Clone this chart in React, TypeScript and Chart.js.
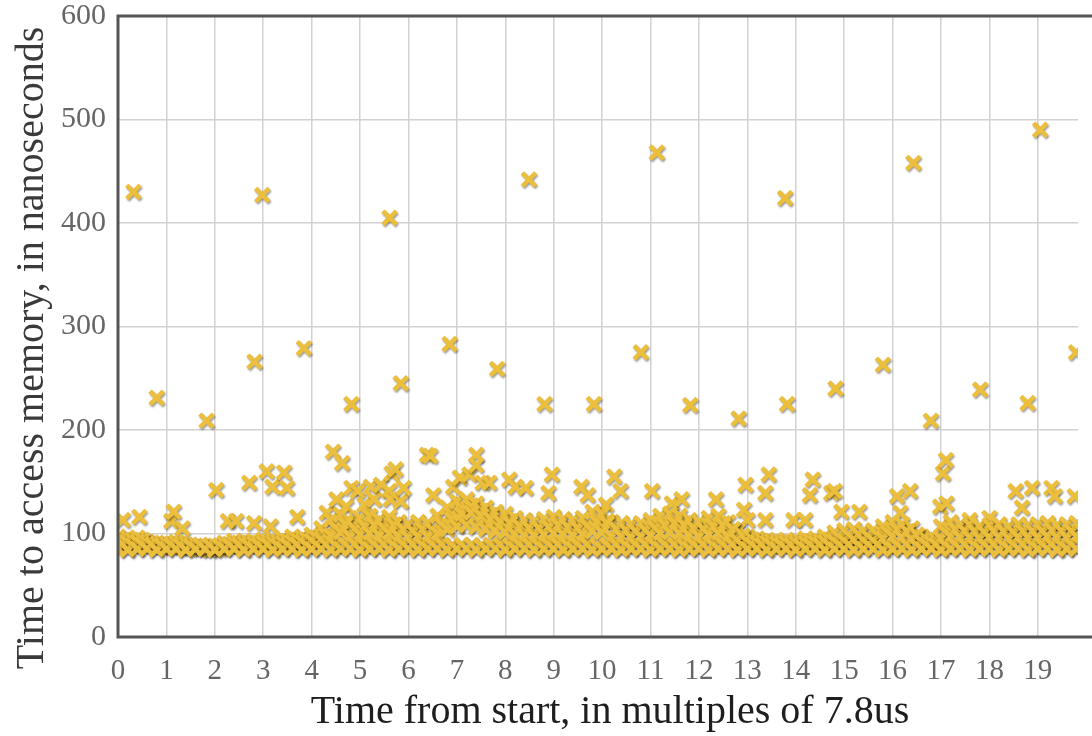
import React, { useEffect, useRef } from 'react';
import { Chart, registerables } from 'chart.js';

Chart.register(...registerables);

// Dense band: sample positions along time axis
const bandX = [
  0, 0.2, 0.4, 0.6, 0.8, 1, 1.2, 1.4, 1.6, 1.8,
  2, 2.2, 2.4, 2.6, 2.8, 3, 3.2, 3.4, 3.6, 3.8,
  4, 4.2, 4.4, 4.6, 4.8, 5, 5.2, 5.4, 5.6, 5.8,
  6, 6.2, 6.4, 6.6, 6.8, 7, 7.2, 7.4, 7.6, 7.8,
  8, 8.2, 8.4, 8.6, 8.8, 9, 9.2, 9.4, 9.6, 9.8,
  10, 10.2, 10.4, 10.6, 10.8, 11, 11.2, 11.4, 11.6, 11.8,
  12, 12.2, 12.4, 12.6, 12.8, 13, 13.2, 13.4, 13.6, 13.8,
  14, 14.2, 14.4, 14.6, 14.8, 15, 15.2, 15.4, 15.6, 15.8,
  16, 16.2, 16.4, 16.6, 16.8, 17, 17.2, 17.4, 17.6, 17.8,
  18, 18.2, 18.4, 18.6, 18.8, 19, 19.2, 19.4, 19.6, 19.8,
];

// Staggered positions (between the ones above)
const bandXB = [
  0.1, 0.3, 0.5, 0.7, 0.9, 1.1, 1.3, 1.5, 1.7, 1.9,
  2.1, 2.3, 2.5, 2.7, 2.9, 3.1, 3.3, 3.5, 3.7, 3.9,
  4.1, 4.3, 4.5, 4.7, 4.9, 5.1, 5.3, 5.5, 5.7, 5.9,
  6.1, 6.3, 6.5, 6.7, 6.9, 7.1, 7.3, 7.5, 7.7, 7.9,
  8.1, 8.3, 8.5, 8.7, 8.9, 9.1, 9.3, 9.5, 9.7, 9.9,
  10.1, 10.3, 10.5, 10.7, 10.9, 11.1, 11.3, 11.5, 11.7, 11.9,
  12.1, 12.3, 12.5, 12.7, 12.9, 13.1, 13.3, 13.5, 13.7, 13.9,
  14.1, 14.3, 14.5, 14.7, 14.9, 15.1, 15.3, 15.5, 15.7, 15.9,
  16.1, 16.3, 16.5, 16.7, 16.9, 17.1, 17.3, 17.5, 17.7, 17.9,
  18.1, 18.3, 18.5, 18.7, 18.9, 19.1, 19.3, 19.5, 19.7, 19.9,
];

const bandLow = [
  85, 84, 85, 85, 84, 85, 85, 84, 85, 85,
  84, 85, 85, 84, 85, 85, 84, 85, 85, 84,
  85, 85, 84, 85, 85, 84, 85, 85, 84, 85,
  85, 84, 85, 85, 84, 85, 85, 84, 85, 85,
  84, 85, 85, 84, 85, 85, 84, 85, 85, 84,
  85, 85, 84, 85, 85, 84, 85, 85, 84, 85,
  85, 84, 85, 85, 84, 85, 85, 84, 85, 85,
  84, 85, 85, 84, 85, 85, 84, 85, 85, 84,
  85, 85, 84, 85, 85, 84, 85, 85, 84, 85,
  85, 84, 85, 85, 84, 85, 85, 84, 85, 85,
];

const bandMid = [
  89, 88, 89, 89, 88, 89, 88, 88, 89, 88,
  88, 89, 89, 88, 89, 89, 88, 89, 89, 88,
  89, 89, 88, 89, 89, 88, 89, 89, 88, 89,
  89, 88, 89, 89, 88, 89, 89, 88, 89, 89,
  88, 89, 89, 88, 89, 89, 88, 89, 89, 88,
  89, 89, 88, 89, 89, 88, 89, 89, 88, 89,
  89, 88, 89, 89, 88, 89, 89, 88, 89, 89,
  88, 89, 89, 88, 89, 89, 88, 89, 89, 88,
  89, 89, 88, 89, 89, 88, 89, 89, 88, 89,
  89, 88, 89, 89, 88, 89, 89, 88, 89, 89,
];

const bandMid2 = [
  92, 91, 92, 90, 89, 89, 90, 88, 88, 87,
  88, 89, 90, 90, 90, 91, 90, 91, 92, 92,
  93, 94, 98, 101, 97, 99, 100, 98, 100, 97,
  96, 97, 97, 100, 104, 107, 108, 106, 104, 102,
  101, 99, 98, 98, 99, 100, 99, 98, 99, 102,
  101, 97, 97, 96, 97, 98, 100, 101, 100, 98,
  97, 99, 100, 97, 93, 92, 91, 91, 90, 91,
  90, 91, 91, 92, 92, 93, 94, 93, 93, 95,
  97, 96, 94, 92, 91, 95, 97, 96, 96, 95,
  96, 96, 95, 96, 96, 96, 97, 96, 96, 97,
];

const bandMid3 = [
  94, 93, 94, 91, 90, 90, 91, 88, 88, 87,
  88, 90, 91, 91, 91, 92, 91, 93, 94, 94,
  96, 99, 105, 109, 104, 107, 108, 105, 108, 104,
  102, 104, 103, 108, 114, 119, 120, 117, 114, 111,
  110, 107, 105, 105, 106, 108, 106, 105, 107, 111,
  110, 104, 103, 102, 103, 105, 108, 110, 108, 105,
  104, 107, 108, 104, 98, 94, 93, 92, 91, 92,
  91, 93, 92, 94, 96, 98, 99, 97, 98, 101,
  104, 102, 99, 94, 93, 101, 104, 102, 102, 101,
  102, 102, 101, 102, 102, 102, 103, 102, 102, 103,
];

const bandUpper = [
  94, 92, 93, 89, 88, 87, 89, 86, 85, 84,
  85, 88, 90, 89, 90, 91, 90, 92, 94, 93,
  96, 98, 106, 111, 104, 108, 110, 106, 109, 104,
  102, 104, 103, 110, 118, 124, 126, 122, 118, 114,
  112, 108, 106, 105, 107, 109, 107, 106, 108, 114,
  112, 104, 103, 102, 103, 106, 110, 112, 110, 106,
  104, 108, 110, 104, 96, 94, 92, 91, 90, 91,
  90, 92, 91, 94, 94, 96, 97, 95, 96, 100,
  104, 102, 98, 94, 92, 100, 104, 102, 101, 100,
  101, 102, 100, 102, 101, 102, 103, 101, 102, 103,
];

const bandTop = [
  97, 95, 96, 92, 91, 90, 92, 89, 88, 87,
  88, 91, 93, 92, 93, 94, 93, 95, 97, 96,
  99, 105, 113, 118, 111, 115, 117, 113, 116, 111,
  109, 111, 110, 117, 125, 131, 133, 129, 125, 121,
  119, 115, 113, 112, 114, 116, 114, 113, 115, 121,
  119, 111, 110, 109, 110, 113, 117, 119, 117, 113,
  111, 115, 117, 111, 103, 97, 95, 94, 93, 94,
  93, 95, 94, 97, 101, 103, 104, 102, 103, 107,
  111, 109, 105, 97, 95, 107, 111, 109, 108, 107,
  108, 109, 107, 109, 108, 109, 110, 108, 109, 110,
];

// Scattered points just above the band (100-180 ns)
const extraX = [
  0.1, 0.44, 1.1, 1.15, 1.33, 2.03, 2.27, 2.44, 2.71, 2.81,
  3.07, 3.15, 3.19, 3.43, 3.49, 3.7, 4.31, 4.44, 4.51, 4.63,
  4.71, 4.82, 4.95, 5.09, 5.22, 5.29, 5.43, 5.6, 5.63, 5.65,
  5.73, 5.84, 5.9, 6.38, 6.45, 6.51, 6.92, 7.06, 7.1, 7.26,
  7.3, 7.4, 7.4, 7.53, 7.67, 8.08, 8.21, 8.42, 8.89, 8.96,
  9.57, 9.7, 10.08, 10.25, 10.38, 11.03, 11.44, 11.64, 12.35, 12.93,
  12.96, 13.0, 13.37, 13.37, 13.44, 13.95, 14.19, 14.29, 14.35, 14.73,
  14.8, 14.94, 15.31, 16.09, 16.16, 16.36, 16.98, 17.04, 17.1, 17.11,
  17.59, 18.0, 18.54, 18.67, 18.88, 19.28, 19.35, 19.76,
];
const extraY = [
  113, 116, 112, 121, 105, 142, 112, 112, 149, 110,
  160, 107, 145, 159, 144, 116, 120, 179, 133, 168,
  126, 144, 141, 128, 145, 133, 147, 141, 133, 158,
  162, 131, 144, 176, 175, 137, 145, 154, 128, 157,
  127, 176, 166, 149, 149, 152, 145, 144, 139, 157,
  145, 137, 128, 155, 141, 141, 129, 133, 133, 123,
  147, 113, 113, 139, 157, 113, 113, 137, 152, 139,
  141, 121, 121, 136, 120, 141, 126, 158, 171, 129,
  113, 115, 141, 125, 144, 144, 136, 136,
];

// Outliers (200-500 ns)
const outlierX = [
  0.32, 2.98, 5.61, 8.49, 11.13, 13.78, 16.43, 19.05,
  0.8, 1.83, 2.82, 3.84, 4.82, 5.84, 6.85, 7.83, 8.81, 9.83,
  10.8, 11.82, 12.82, 13.82, 14.82, 15.8, 16.79, 17.81, 18.79, 19.79,
];
const outlierY = [
  430, 427, 405, 442, 468, 424, 458, 490,
  231, 209, 266, 279, 225, 245, 283, 259, 225, 225,
  275, 224, 211, 225, 240, 263, 209, 239, 226, 275,
];

const xTitle = 'Time from start, in multiples of 7.8us';
const yTitle = 'Time to access memory, in nanoseconds';

const MARKER = '#EBBE3C';
const SERIF = '"Liberation Serif", "Times New Roman", serif';

const shadowPlugin = {
  id: 'markerShadow',
  beforeDatasetsDraw(chart: any) {
    const c = chart.ctx;
    c.save();
    c.shadowColor = 'rgba(0,0,0,0.4)';
    c.shadowBlur = 2;
    c.shadowOffsetX = 1;
    c.shadowOffsetY = 1.5;
  },
  afterDatasetsDraw(chart: any) {
    chart.ctx.restore();
  },
};

const framePlugin = {
  id: 'frame',
  afterDatasetsDraw(chart: any) {
    const { ctx, chartArea } = chart;
    ctx.save();
    ctx.strokeStyle = '#555';
    ctx.lineWidth = 3;
    ctx.beginPath();
    ctx.moveTo(chart.width + 5, chartArea.top);
    ctx.lineTo(chartArea.left, chartArea.top);
    ctx.lineTo(chartArea.left, chartArea.bottom);
    ctx.lineTo(chart.width + 5, chartArea.bottom);
    ctx.stroke();
    ctx.restore();
  },
};

const titlesPlugin = {
  id: 'axisTitles',
  afterDraw(chart: any) {
    const { ctx } = chart;
    ctx.save();
    ctx.font = `40px ${SERIF}`;
    ctx.textAlign = 'center';
    ctx.textBaseline = 'middle';
    ctx.fillStyle = '#1e1e1e';
    ctx.fillText(xTitle, 610, 712);
    ctx.fillStyle = '#3a3a3a';
    ctx.translate(32, 348);
    ctx.rotate(-Math.PI / 2);
    ctx.fillText(yTitle, 0, 0);
    ctx.restore();
  },
};

function pts(xs: number[], ys: number[]) {
  return xs.map((x, i) => ({ x, y: ys[i] }));
}

export default function App() {
  const ref = useRef<HTMLCanvasElement | null>(null);

  useEffect(() => {
    if (!ref.current) return;
    const style = {
      pointStyle: 'crossRot' as const,
      pointRadius: 9.5,
      pointBorderWidth: 4.5,
      borderColor: MARKER,
      backgroundColor: MARKER,
      pointBorderColor: MARKER,
      pointBackgroundColor: MARKER,
      showLine: false,
      clip: 0,
    };
    const chart = new Chart(ref.current, {
      type: 'scatter',
      data: {
        datasets: [
          { ...style, data: pts(bandX, bandLow) },
          { ...style, data: pts(bandXB, bandMid) },
          { ...style, data: pts(bandX, bandMid2) },
          { ...style, data: pts(bandXB, bandMid3) },
          { ...style, data: pts(bandXB, bandUpper) },
          { ...style, data: pts(bandX, bandTop) },
          { ...style, data: pts(extraX, extraY) },
          { ...style, data: pts(outlierX, outlierY) },
        ],
      },
      options: {
        responsive: false,
        animation: false,
        layout: { padding: { top: 16, right: 0, bottom: 0, left: 0 } },
        plugins: {
          legend: { display: false },
          tooltip: { enabled: false },
        },
        scales: {
          x: {
            type: 'linear',
            min: 0,
            max: 19.83,
            afterFit: (s: any) => {
              s.height = 99;
              s.paddingLeft = 0;
              s.paddingRight = 0;
            },
            ticks: {
              stepSize: 1,
              includeBounds: false,
              padding: 17,
              color: '#666',
              maxRotation: 0,
              autoSkip: false,
              font: { family: SERIF, size: 29 },
            },
            grid: { color: '#d2d2d2', lineWidth: 1.5, drawTicks: false },
            border: { display: false },
            title: { display: false, text: xTitle },
          },
          y: {
            type: 'linear',
            min: 0,
            max: 600,
            afterFit: (s: any) => {
              s.width = 118;
              s.paddingTop = 0;
              s.paddingBottom = 0;
            },
            ticks: {
              stepSize: 100,
              padding: 12,
              color: '#666',
              font: { family: SERIF, size: 30 },
            },
            grid: { color: '#d2d2d2', lineWidth: 1.5, drawTicks: false },
            border: { display: false },
            title: { display: false, text: yTitle },
          },
        },
      },
      plugins: [shadowPlugin, framePlugin, titlesPlugin],
    });
    return () => chart.destroy();
  }, []);

  return (
    <div style={{ position: 'fixed', left: 0, top: 0, width: 1092, height: 736, background: '#fff' }}>
      <canvas ref={ref} width={1092} height={736} style={{ display: 'block' }} />
    </div>
  );
}
